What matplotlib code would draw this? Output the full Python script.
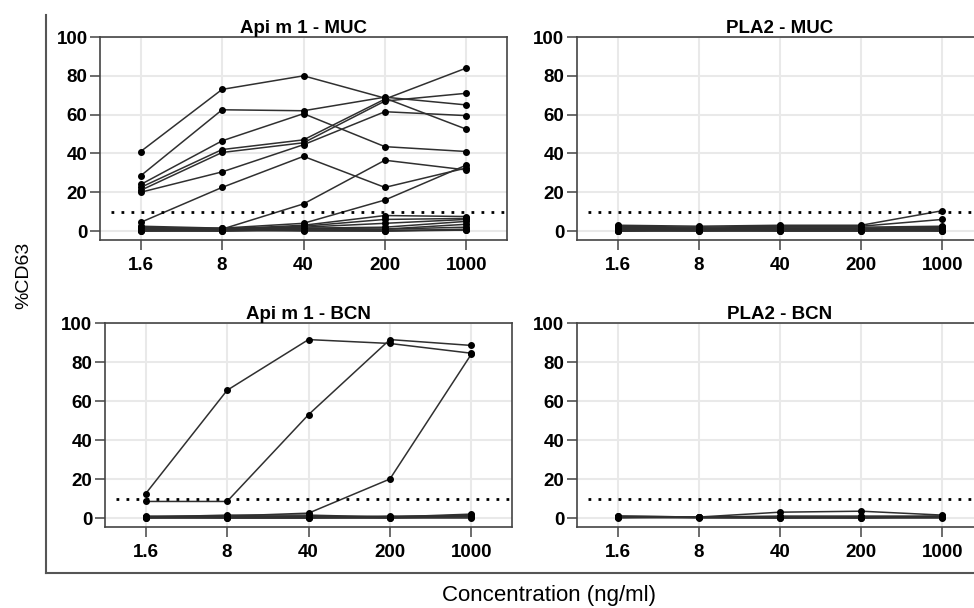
import numpy as np
from matplotlib import pyplot as plt

plt.rcParams['font.family'] = ['Liberation Sans', 'DejaVu Sans']

conc_labels = ['1.6', '8', '40', '200', '1000']
threshold = 10

# %CD63 per patient, one row per patient
api_muc = [
    [41, 73, 80, 68.5, 52.5],
    [28.5, 62.5, 62, 69, 65],
    [24, 46.5, 60.5, 43.5, 41],
    [22.5, 42, 47, 68, 84],
    [21, 40.5, 45.5, 67, 71],
    [20, 30.5, 44.5, 61.5, 59.5],
    [4.5, 22.5, 38.5, 22.5, 32.5],
    [1.5, 1, 14, 36.5, 31.5],
    [2.5, 1.5, 4, 16, 34],
    [2, 1, 3, 8, 7.5],
    [1, 0.5, 2.5, 6, 6.5],
    [1.5, 1.5, 2, 4, 6],
    [0.5, 0.5, 1.5, 2, 5],
    [0, 0, 1, 1, 3.5],
    [0.5, 0, 0.5, 0.5, 0.5],
    [0, 0.5, 0, 0, 0.5],
    [1, 1, 1.5, 1, 2],
    [0.5, 1, 0.5, 0, 1],
]
pla_muc = [
    [3, 2.5, 3, 3, 10.5],
    [2.5, 2, 2.5, 2.5, 6],
    [2, 1.5, 2, 2, 2.5],
    [1.5, 1, 1.5, 1.5, 2],
    [1, 1, 1, 1, 1.5],
    [0.5, 0.5, 0.5, 0.5, 1],
    [0, 0.5, 0, 0, 0.5],
    [0.5, 0, 0.5, 0.5, 0],
    [0, 0, 0, 0, 0],
    [1, 0.5, 1, 0.5, 1],
    [1.5, 1.5, 1, 1, 0.5],
    [0, 1, 0.5, 1, 2],
]
api_bcn = [
    [12.5, 65.5, 91.5, 89.5, 84.5],
    [8.5, 8.5, 53, 91.5, 88.5],
    [0.5, 1, 2.5, 20, 84],
    [0.5, 1.5, 1.5, 0.5, 2],
    [0.5, 0.5, 1, 0.5, 1.5],
    [0, 0.5, 0.5, 0, 1],
    [0.5, 0, 0, 0.5, 0.5],
    [0, 0, 0, 0, 0],
    [1, 1, 0.5, 1, 1],
]
pla_bcn = [
    [1, 0.5, 3, 3.5, 1.5],
    [0.5, 0.5, 1, 1, 1],
    [1, 0.5, 0.5, 0.5, 0.5],
    [0.5, 0, 0, 0, 0],
    [0, 0.5, 0, 0.5, 0.5],
    [0.5, 0.5, 0.5, 0, 1],
]

W, H = 974, 608
fig = plt.figure(figsize=(W / 100, H / 100), dpi=100)


def px_axes(left, top, right, bottom):
    return fig.add_axes([left / W, 1 - bottom / H, (right - left) / W, (bottom - top) / H])


# outer frame with the shared labels
outer = px_axes(46, 15, 1000, 573)
outer.set_xticks([])
outer.set_yticks([])
outer.patch.set_alpha(0)
for s in ['top', 'right']:
    outer.spines[s].set_visible(False)
for s in ['left', 'bottom']:
    outer.spines[s].set_color('#555555')
    outer.spines[s].set_linewidth(1.5)
fig.text(24 / W, 1 - 275 / H, '%CD63', rotation=90, ha='center', va='center', fontsize=14)
fig.text(549 / W, 1 - 595 / H, 'Concentration (ng/ml)', ha='center', va='center', fontsize=16)

panels = [
    ('Api m 1 - MUC', api_muc, (100, 37, 507, 240)),
    ('PLA2 - MUC', pla_muc, (577, 37, 983, 240)),
    ('Api m 1 - BCN', api_bcn, (105, 323, 512, 527)),
    ('PLA2 - BCN', pla_bcn, (577, 323, 983, 527)),
]

x = np.arange(len(conc_labels))
for title, rows, box in panels:
    ax = px_axes(*box)
    ax.set_xlim(-0.5, 4.5)
    ax.set_ylim(-4.6, 100)
    ax.set_xticks(x, conc_labels)
    ax.set_yticks([0, 20, 40, 60, 80, 100])
    ax.grid(color='#e9e9e9', linewidth=1.5)
    ax.set_axisbelow(True)
    for s in ax.spines.values():
        s.set_color('#444444')
        s.set_linewidth(1.2)
    ax.tick_params(direction='out', length=7, width=1.1, color='#444444', labelsize=13.5)
    ax.tick_params(axis='x', pad=5)
    ax.tick_params(axis='y', pad=2)
    for lab in ax.get_xticklabels() + ax.get_yticklabels():
        lab.set_fontweight('bold')
    for row in rows:
        ax.plot(x, row, color='#303030', linewidth=1.1, marker='o', markersize=4,
                markerfacecolor='black', markeredgecolor='black')
    ax.hlines(threshold, -0.37, 4.5, colors='black', linewidth=2.0, linestyles=(0, (1, 2.6)))
    ax.set_title(title, fontsize=13.5, fontweight='bold', pad=1)

fig.savefig('out.png', dpi=100)
